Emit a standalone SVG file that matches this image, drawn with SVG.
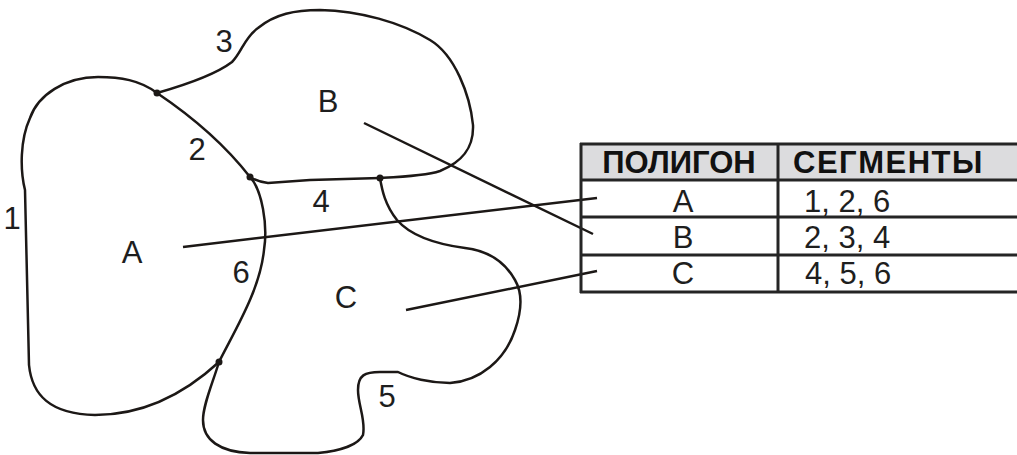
<svg xmlns="http://www.w3.org/2000/svg" width="1017" height="455" viewBox="0 0 1017 455">
<style>
.seg{fill:none;stroke:#1c1816;stroke-width:2.5;stroke-linejoin:round;stroke-linecap:round}
.con{fill:none;stroke:#1c1816;stroke-width:2.5;stroke-linecap:butt}
.node{fill:#1c1816}
.lbl{font-family:"Liberation Sans",Arial,sans-serif;font-size:31px;fill:#1e1e1e;text-anchor:middle}
.hdr{font-family:"Liberation Sans",Arial,sans-serif;font-size:31px;font-weight:bold;fill:#111}
.cell{font-family:"Liberation Sans",Arial,sans-serif;font-size:31px;fill:#1e1e1e}
.grid{stroke:#252525;stroke-width:3;fill:none}
</style>
<rect width="1017" height="455" fill="#fff"/>
<g id="segments">
<path id="seg1" class="seg" d="M157,93 C140,80 120,77 98,77 C65,77 38,95 30,118 C20,140 20,170 25,190 L29,365 C32,395 50,414 95,415 C140,415 180,398 219,362"/>
<path id="seg3" class="seg" d="M157,93 C185,85 215,75 232,62 C242,52 244,38 258,28 C275,14 295,10 320,10 C360,11 400,22 430,40 C455,55 470,95 473,125 C474,150 460,163 440,171 C425,176 400,177 380,178"/>
<path id="seg4" class="seg" d="M380,178 L310,180 L268,183 Q258,182 250,177"/>
<path id="seg2" class="seg" d="M250,177 Q215,132 157,93"/>
<path id="seg6" class="seg" d="M250,177 C262,190 268,225 264,250 C260,290 235,330 219,362"/>
<path id="seg5" class="seg" d="M219,362 C212,385 203,405 203,420 C203,440 220,452 250,453 L318,453 C340,451 358,445 363,435 C366,420 358,405 358,390 C358,375 365,372 380,372 L398,372 C410,378 430,383 450,383 C480,381 505,360 515,330 C522,310 522,292 515,280 C505,262 490,251 465,248 C435,244 410,235 397,220 C385,205 382,190 380,178"/>
</g>
<g id="nodes">
<circle class="node" cx="157" cy="93" r="3.5"/>
<circle class="node" cx="250" cy="177" r="3.5"/>
<circle class="node" cx="380" cy="178" r="3.5"/>
<circle class="node" cx="219" cy="362" r="3.5"/>
</g>
<g id="labels">
<text class="lbl" x="12" y="229">1</text>
<text class="lbl" x="197" y="160">2</text>
<text class="lbl" x="224" y="52">3</text>
<text class="lbl" x="321" y="212">4</text>
<text class="lbl" x="387" y="407">5</text>
<text class="lbl" x="241" y="283">6</text>
<text class="lbl" x="132" y="263">A</text>
<text class="lbl" x="328" y="112">B</text>
<text class="lbl" x="346" y="308">C</text>
</g>
<g id="connectors">
<line class="con" x1="183" y1="247" x2="597" y2="198"/>
<line class="con" x1="364" y1="123" x2="593" y2="234"/>
<line class="con" x1="406" y1="310" x2="597" y2="271"/>
</g>
<g id="table">
<rect x="580" y="144" width="440" height="36" fill="#dcdcde"/>
<line class="grid" x1="580" y1="144" x2="1020" y2="144"/>
<line class="grid" x1="580" y1="180" x2="1020" y2="180"/>
<line class="grid" x1="580" y1="217" x2="1020" y2="217"/>
<line class="grid" x1="580" y1="255" x2="1020" y2="255"/>
<line class="grid" x1="580" y1="292" x2="1020" y2="292"/>
<line class="grid" x1="581" y1="143" x2="581" y2="293"/>
<line class="grid" x1="778" y1="143" x2="778" y2="293"/>
<text class="hdr" x="679" y="173" text-anchor="middle">ПОЛИГОН</text>
<text class="hdr" x="793" y="173" letter-spacing="1.5">СЕГМЕНТЫ</text>
<text class="cell" x="683" y="212" text-anchor="middle">A</text>
<text class="cell" x="683" y="248" text-anchor="middle">B</text>
<text class="cell" x="683" y="284" text-anchor="middle">C</text>
<text class="cell" x="804" y="212">1, 2, 6</text>
<text class="cell" x="804" y="248">2, 3, 4</text>
<text class="cell" x="805" y="284">4, 5, 6</text>
</g>
</svg>
